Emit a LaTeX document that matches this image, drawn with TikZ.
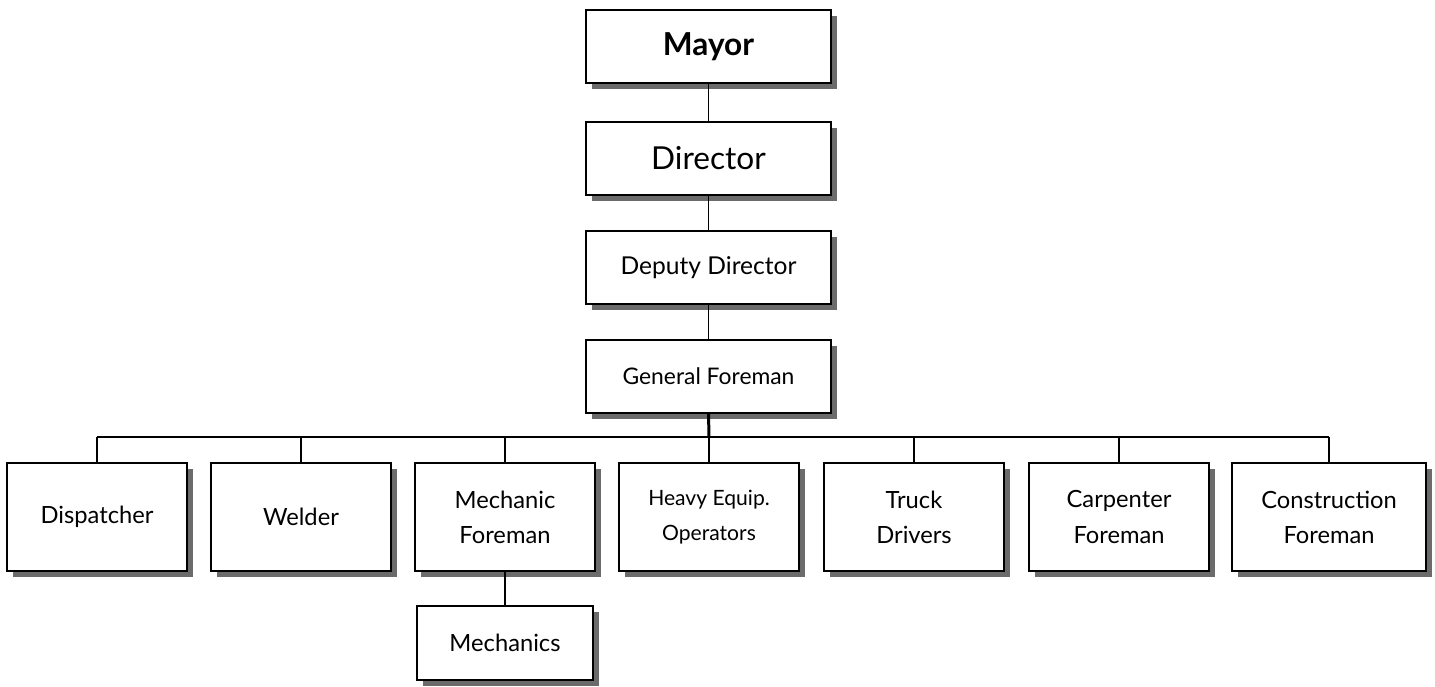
\documentclass[tikz,border=0pt]{standalone}
\usepackage{fontspec}
\setmainfont{Lato}
\usetikzlibrary{positioning,shadows}
\begin{document}
\begin{tikzpicture}[x=0.02cm, y=-0.02cm,
  box/.style = {draw, line width=1.1pt, fill=white, align=center,
    drop shadow={shadow xshift=3.4pt, shadow yshift=-3.4pt, fill=black!58, opacity=1}},
  top/.style = {box, minimum width=4.9cm, minimum height=1.46cm},
  low/.style = {box, minimum width=3.6cm, minimum height=2.16cm, font=\fontsize{13.5}{20}\selectfont},
  link/.style = {line width=0.9pt}]
\useasboundingbox (0,0) rectangle (1435,686);
% chain of command
\node[top, font=\fontsize{18}{20}\selectfont\bfseries] (mayor) at (708.5,46.5) {Mayor};
\node[top, font=\fontsize{18}{20}\selectfont] (director) [below=0.74cm of mayor] {Director};
\node[top, font=\fontsize{14}{18}\selectfont] (deputy) [below=0.68cm of director] {Deputy Director};
\node[top, font=\fontsize{13}{16}\selectfont] (general) [below=0.68cm of deputy] {General Foreman};
% crews
\node[low] (dispatcher) at (97,517) {Dispatcher};
\node[low] (welder) at (301,517) {Welder};
\node[low] (mechfore) at (505,517) {Mechanic\\Foreman};
\node[low, font=\fontsize{12}{20}\selectfont] (heavy) at (709,517) {Heavy Equip.\\Operators};
\node[low] (truck) at (914,517) {Truck\\Drivers};
\node[low] (carpenter) at (1119,517) {Carpenter\\Foreman};
\node[low, minimum width=3.88cm] (construction) at (1329,517) {Construction\\Foreman};
\node[box, minimum width=3.52cm, minimum height=1.48cm, font=\fontsize{13.5}{20}\selectfont] (mechanics) at (505,643) {Mechanics};
\coordinate (bus) at (709,437);
\draw[link] (mayor) -- (director);
\draw[link] (director) -- (deputy);
\draw[link] (deputy) -- (general);
\draw[line width=1.7pt] (general.south) -- (bus);
\draw[link] (dispatcher.north |- bus) -- (construction.north |- bus);
\foreach \n in {dispatcher,welder,mechfore,heavy,truck,carpenter,construction}
  \draw[link] (\n.north) -- (\n.north |- bus);
\draw[link] (mechfore) -- (mechanics);
\end{tikzpicture}
\end{document}
